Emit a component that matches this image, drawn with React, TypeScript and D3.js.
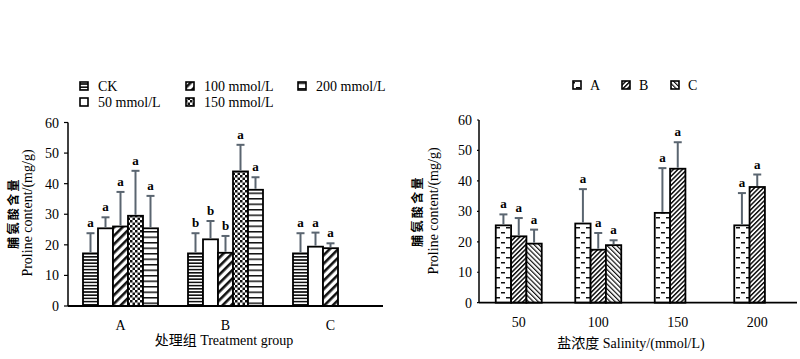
import React from "react";
import * as d3 from "d3";

const groups = ["A", "B", "C"];
const treatments = ["CK", "50 mmol/L", "100 mmol/L", "150 mmol/L", "200 mmol/L"];
const salinity = ["50", "100", "150", "200"];
const yTicks = [0, 10, 20, 30, 40, 50, 60];

// proline content (mg/g) per treatment group, order: CK, 50, 100, 150, 200 mmol/L
const meanA = [17.2, 25.4, 26.0, 29.5, 25.4];
const meanB = [17.2, 21.8, 17.4, 44.0, 38.0];
const meanC = [17.2, 19.4, 18.9, null, null];
const errA = [6.6, 3.6, 11.3, 14.7, 10.6];
const errB = [6.6, 6.0, 5.5, 8.7, 4.1];
const errC = [6.6, 4.6, 1.6, null, null];
// significance letters, left chart (within group)
const letterA = ["a", "a", "a", "a", "a"];
const letterB = ["b", "b", "b", "a", "a"];
const letterC = ["a", "a", "a", null, null];
// significance letters, right chart (within salinity), order: 50, 100, 150, 200
const rLetterA = ["a", "a", "a", "a"];
const rLetterB = ["a", "a", "a", "a"];
const rLetterC = ["a", "a", null, null];

const means = [meanA, meanB, meanC];
const errs = [errA, errB, errC];
const letters = [letterA, letterB, letterC];
const rLetters = [rLetterA, rLetterB, rLetterC];

const SERIF = "'Liberation Serif', 'Times New Roman', 'Noto Sans CJK SC', serif";
const ERR = "#5a6570";

interface Bar {
  cat: string;
  key: string;
  value: number | null;
  err: number | null;
  letter: string | null;
}

const leftBars: Bar[] = [];
groups.forEach((g, gi) =>
  treatments.forEach((t, ti) =>
    leftBars.push({ cat: g, key: t, value: means[gi][ti], err: errs[gi][ti], letter: letters[gi][ti] })
  )
);
const rightBars: Bar[] = [];
salinity.forEach((s, si) =>
  groups.forEach((g, gi) =>
    rightBars.push({ cat: s, key: g, value: means[gi][si + 1], err: errs[gi][si + 1], letter: rLetters[gi][si] })
  )
);

const Patterns = () => (
  <defs>
    <pattern id="pCK" width="4" height="3.2" patternUnits="userSpaceOnUse">
      <rect width="4" height="3.2" fill="#fff" />
      <rect width="4" height="1.6" fill="#111" />
    </pattern>
    <pattern id="pWhite" width="4" height="4" patternUnits="userSpaceOnUse">
      <rect width="4" height="4" fill="#fff" />
    </pattern>
    <pattern id="pDiag" width="6" height="6" patternUnits="userSpaceOnUse" patternTransform="rotate(45)">
      <rect width="6" height="6" fill="#fff" />
      <rect width="2.6" height="6" fill="#111" />
    </pattern>
    <pattern id="pCheck" width="5" height="5" patternUnits="userSpaceOnUse">
      <rect width="5" height="5" fill="#fff" />
      <rect width="2.5" height="2.5" fill="#111" />
      <rect x="2.5" y="2.5" width="2.5" height="2.5" fill="#111" />
    </pattern>
    <pattern id="pHoriz" width="4" height="5.5" patternUnits="userSpaceOnUse">
      <rect width="4" height="5.5" fill="#fff" />
      <rect width="4" height="1.5" fill="#111" />
    </pattern>
    <pattern id="pDash" width="10" height="10" patternUnits="userSpaceOnUse">
      <rect width="10" height="10" fill="#fff" />
      <rect x="1" y="2" width="4" height="1.5" fill="#111" />
      <rect x="6" y="7" width="4" height="1.5" fill="#111" />
    </pattern>
    <pattern id="pDense" width="3.2" height="3.2" patternUnits="userSpaceOnUse" patternTransform="rotate(45)">
      <rect width="3.2" height="3.2" fill="#fff" />
      <rect width="1.5" height="3.2" fill="#111" />
    </pattern>
    <pattern id="pBack" width="3.4" height="3.4" patternUnits="userSpaceOnUse" patternTransform="rotate(-45)">
      <rect width="3.4" height="3.4" fill="#fff" />
      <rect width="1.2" height="3.4" fill="#111" />
    </pattern>
  </defs>
);

interface PanelProps {
  bars: Bar[];
  cats: string[];
  keys: string[];
  fills: string[];
  x0: number;
  x1: number;
  yBottom: number;
  yTop: number;
  groupFrac: number;
  tickSize: number;
  tickPad: number;
  catLabelY: number;
}

const Panel = (p: PanelProps) => {
  const xCat = d3.scaleBand<string>().domain(p.cats).range([p.x0, p.x1]).padding(0);
  const gw = xCat.bandwidth() * p.groupFrac;
  const xKey = d3.scaleBand<string>().domain(p.keys).range([0, gw]).padding(0);
  const y = d3.scaleLinear().domain([0, 60]).range([p.yBottom, p.yTop]);
  const bx = (b: Bar) => (xCat(b.cat) as number) + (xCat.bandwidth() - gw) / 2 + (xKey(b.key) as number);
  const shown = p.bars.filter((b) => b.value != null);

  return (
    <g fontFamily={SERIF}>
      {shown.map((b, i) => (
        <rect
          key={"b" + i}
          x={bx(b)}
          y={y(b.value as number)}
          width={xKey.bandwidth()}
          height={p.yBottom - y(b.value as number)}
          fill={`url(#${p.fills[p.keys.indexOf(b.key)]})`}
          stroke="#000"
          strokeWidth={1.8}
        />
      ))}
      {shown.map((b, i) => {
        const cx = bx(b) + xKey.bandwidth() / 2;
        const top = y((b.value as number) + (b.err as number));
        return (
          <g key={"e" + i}>
            <line x1={cx} x2={cx} y1={y(b.value as number) - 1} y2={top} stroke={ERR} strokeWidth={2} />
            <line x1={cx - 4} x2={cx + 4} y1={top} y2={top} stroke={ERR} strokeWidth={2} />
            <text x={cx} y={top - 6} textAnchor="middle" fontSize={13} fontWeight="bold">
              {b.letter}
            </text>
          </g>
        );
      })}
      {/* y axis */}
      <line x1={p.x0} x2={p.x0} y1={y(0)} y2={y(60)} stroke="#000" strokeWidth={1.5} />
      {yTicks.map((t) => (
        <g key={"t" + t}>
          <line x1={p.x0 - p.tickSize} x2={p.x0} y1={y(t)} y2={y(t)} stroke="#000" strokeWidth={1.2} />
          <text x={p.x0 - p.tickSize - p.tickPad} y={y(t) + 5} textAnchor="end" fontSize={14}>
            {t}
          </text>
        </g>
      ))}
      {/* x axis */}
      <line x1={p.x0} x2={p.x1} y1={y(0)} y2={y(0)} stroke="#000" strokeWidth={1.8} />
      {p.cats.map((c) => (
        <text key={"c" + c} x={(xCat(c) as number) + xCat.bandwidth() / 2} y={p.catLabelY} textAnchor="middle" fontSize={14}>
          {c}
        </text>
      ))}
    </g>
  );
};

const YTitle = ({ cx, ex, cy }: { cx: number; ex: number; cy: number }) => (
  <g>
    <text
      transform={`translate(${cx},${cy}) rotate(-90)`}
      textAnchor="middle"
      fontFamily="'Noto Sans CJK SC', sans-serif"
      fontWeight="bold"
      fontSize={12}
      letterSpacing={2.4}
    >
      脯氨酸含量
    </text>
    <text transform={`translate(${ex},${cy}) rotate(-90)`} textAnchor="middle" fontFamily={SERIF} fontSize={14}>
      Proline content/(mg/g)
    </text>
  </g>
);

const leftFills = ["pCK", "pWhite", "pDiag", "pCheck", "pHoriz"];
const rightFills = ["pDash", "pDense", "pBack"];

const App = () => (
  <svg width={800} height={359} style={{ position: "absolute", left: 0, top: 0, background: "#fff" }}>
    <Patterns />
    <rect width={800} height={359} fill="#fff" />

    {/* left legend */}
    <g fontFamily={SERIF} fontSize={14}>
      {treatments.map((t, i) => {
        const lx = [80, 186, 298][Math.floor(i / 2)];
        const ly = [86, 102][i % 2];
        return (
          <g key={"lg" + t}>
            <rect x={lx} y={ly - 4} width={8} height={8} fill={`url(#${leftFills[i]})`} stroke="#000" strokeWidth={1.6} />
            <text x={lx + 18} y={ly + 5}>
              {t}
            </text>
          </g>
        );
      })}
    </g>

    {/* right legend */}
    <g fontFamily={SERIF} fontSize={14}>
      {groups.map((g, i) => (
        <g key={"rg" + g}>
          <rect x={573 + i * 49} y={81} width={8} height={8} fill={`url(#${rightFills[i]})`} stroke="#000" strokeWidth={1.6} />
          <text x={590 + i * 49} y={90}>
            {g}
          </text>
        </g>
      ))}
    </g>

    <Panel
      bars={leftBars}
      cats={groups}
      keys={treatments}
      fills={leftFills}
      x0={68}
      x1={383}
      yBottom={306}
      yTop={122.5}
      groupFrac={75 / 105}
      tickSize={4}
      tickPad={5}
      catLabelY={330}
    />
    <Panel
      bars={rightBars}
      cats={salinity}
      keys={groups}
      fills={rightFills}
      x0={479}
      x1={797}
      yBottom={302.7}
      yTop={120}
      groupFrac={46 / 79.5}
      tickSize={2}
      tickPad={5}
      catLabelY={327}
    />

    <YTitle cx={18} ex={32} cy={213} />
    <YTitle cx={421.5} ex={437.5} cy={211} />

    <text x={224} y={345} textAnchor="middle" fontFamily={SERIF} fontSize={14}>
      处理组 Treatment group
    </text>
    <text x={631} y={348} textAnchor="middle" fontFamily={SERIF} fontSize={14}>
      盐浓度 Salinity/(mmol/L)
    </text>
  </svg>
);

export default App;
